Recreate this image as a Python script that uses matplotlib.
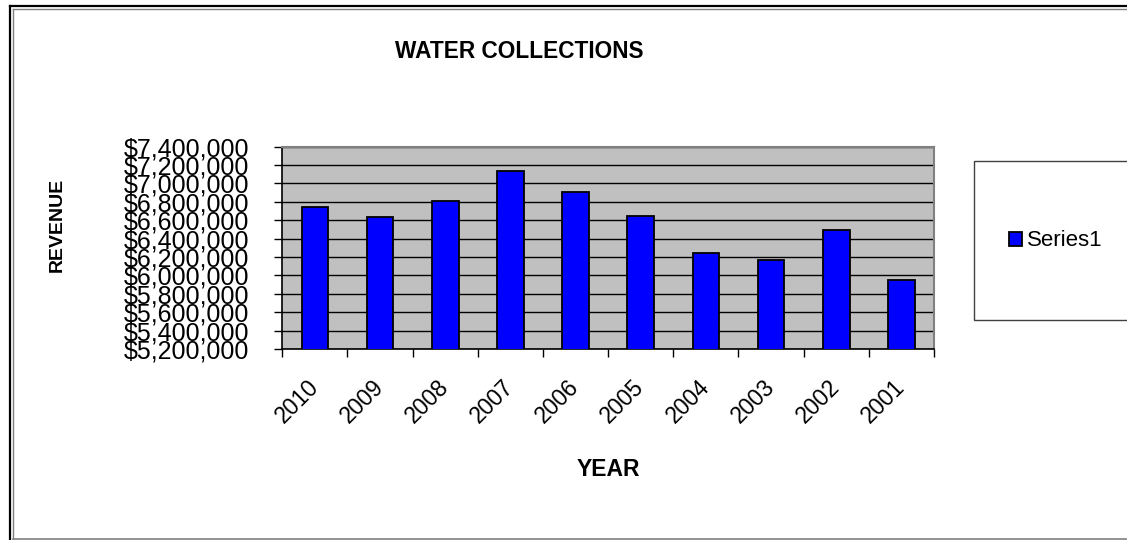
import numpy as np
import matplotlib
matplotlib.use("Agg")
import matplotlib.pyplot as plt
from matplotlib.patches import Rectangle
from matplotlib.lines import Line2D
from matplotlib.ticker import FuncFormatter, MultipleLocator, FixedLocator

plt.rcParams['font.family'] = ['Liberation Sans', 'DejaVu Sans']

# data
years = ['2010', '2009', '2008', '2007', '2006', '2005', '2004', '2003', '2002', '2001']
revenue = [6740000, 6632000, 6807000, 7133000, 6905000, 6646000, 6248000, 6168000, 6496000, 5948000]
series_name = 'Series1'
y_min, y_max, y_step = 5200000, 7400000, 200000

W, H = 1127, 540
fig = plt.figure(figsize=(W / 100, H / 100), dpi=100)
fig.patch.set_facecolor('white')

# plot area in pixels: left 282, right 934, top 147, bottom 349
ax = fig.add_axes([282.3 / W, 1 - 349 / H, (934 - 282.3) / W, (349 - 146.7) / H])
ax.set_facecolor('#c0c0c0')

x = np.arange(len(years))
bars = ax.bar(x, revenue, width=0.41, color='#0000ff', edgecolor='black',
              linewidth=1.3, zorder=3, label=series_name)

ax.set_xlim(-0.5, len(years) - 0.5)
ax.set_ylim(y_min, y_max)

# gridlines
ax.yaxis.set_major_locator(MultipleLocator(y_step))
ax.grid(axis='y', color='black', linewidth=1.0, zorder=1)
ax.set_axisbelow(True)

ax.yaxis.set_major_formatter(FuncFormatter(lambda v, p: '${:,.0f}'.format(v)))
ax.tick_params(axis='y', direction='out', length=6, width=1, pad=18,
               labelsize=18, colors='black')

# category labels at centres, ticks at boundaries
ax.set_xticks(x)
ax.set_xticklabels(years, rotation=45, ha='right', va='center', rotation_mode='anchor')
ax.tick_params(axis='x', which='major', length=0, pad=25, labelsize=16.5)
ax.xaxis.set_minor_locator(FixedLocator(np.arange(len(years) + 1) - 0.5))
ax.tick_params(axis='x', which='minor', direction='out', length=6, width=1)

for side in ['left', 'bottom']:
    ax.spines[side].set_color('black')
    ax.spines[side].set_linewidth(1.2)
for side in ['top', 'right']:
    ax.spines[side].set_color('#808080')
    ax.spines[side].set_linewidth(1.5)

# titles
fig.text(519 / W, 1 - 52 / H, 'WATER COLLECTIONS', ha='center', va='center',
         fontsize=16.3, fontweight='bold')
fig.text(608 / W, 1 - 470 / H, 'YEAR', ha='center', va='center',
         fontsize=16.5, fontweight='bold')
fig.text(57 / W, 1 - 225 / H, 'REVENUE', ha='center', va='center', rotation=90,
         fontsize=14, fontweight='bold')

# legend box
fig.add_artist(Rectangle((974 / W, 1 - 320 / H), 170 / W, 159 / H,
                         transform=fig.transFigure, facecolor='white',
                         edgecolor='#404040', linewidth=1.0))
fig.legend(handles=[bars], labels=[series_name], loc='center left',
           bbox_to_anchor=(1009 / W, 1 - 241 / H), frameon=False,
           fontsize=16, handlelength=0.6, handleheight=0.6,
           handletextpad=0.2, borderpad=0, borderaxespad=0)

# outer chart border
fig.add_artist(Line2D([10 / W, 10 / W], [0, 1 - 5.5 / H], transform=fig.transFigure,
                      color='black', linewidth=1.6))
fig.add_artist(Line2D([10 / W, 1], [1 - 5.5 / H, 1 - 5.5 / H], transform=fig.transFigure,
                      color='black', linewidth=1.6))
fig.add_artist(Line2D([12.8 / W, 12.8 / W], [0.5 / H, 1 - 8.5 / H], transform=fig.transFigure,
                      color='#808080', linewidth=1.0))
fig.add_artist(Line2D([12.8 / W, 1], [1 - 8.5 / H, 1 - 8.5 / H], transform=fig.transFigure,
                      color='#808080', linewidth=1.0))
fig.add_artist(Line2D([12.8 / W, 1], [0.8 / H, 0.8 / H], transform=fig.transFigure,
                      color='#808080', linewidth=1.2))

fig.savefig('out.png', dpi=100)
